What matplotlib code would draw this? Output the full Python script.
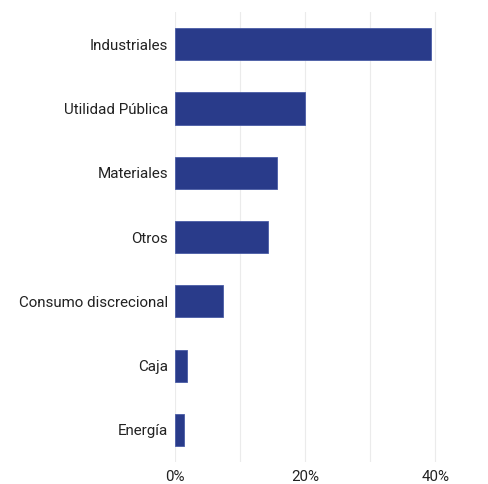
import matplotlib.pyplot as plt
from matplotlib.ticker import MultipleLocator, PercentFormatter

plt.rcParams['font.family'] = ['Roboto', 'DejaVu Sans']

sectors = ['Industriales', 'Utilidad Pública', 'Materiales', 'Otros',
           'Consumo discrecional', 'Caja', 'Energía']
weights = [39.3, 19.9, 15.7, 14.3, 7.4, 1.8, 1.4]

fig = plt.figure(figsize=(4.89, 4.84), dpi=100)
ax = fig.add_axes([175 / 489, 22 / 484, 280 / 489, 450 / 484])

pos = list(range(len(sectors)))[::-1]
ax.barh(pos, weights, height=0.5, color='#293b8a', edgecolor='#4a5ca6',
        linewidth=0.6, zorder=3)

ax.set_yticks(pos)
ax.set_yticklabels(sectors, fontsize=10.9, color='#222222')
ax.set_ylim(-0.5, len(sectors) - 0.5)
ax.set_xlim(0, 43)
ax.xaxis.set_major_locator(MultipleLocator(20))
ax.xaxis.set_minor_locator(MultipleLocator(10))
ax.xaxis.set_major_formatter(PercentFormatter(decimals=0))
ax.tick_params(axis='x', labelsize=10.9, colors='#222222', length=0, pad=6)
ax.tick_params(axis='x', which='minor', length=0)
ax.tick_params(axis='y', length=0, pad=5)
ax.grid(axis='x', which='both', color='#ebebeb', linewidth=0.8, zorder=0)
for s in ax.spines.values():
    s.set_visible(False)

fig.savefig('out.png', dpi=100)
